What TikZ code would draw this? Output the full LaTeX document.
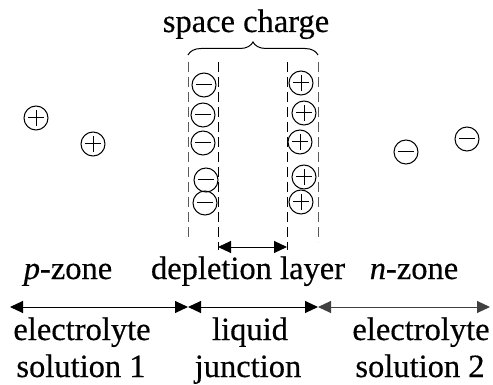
\documentclass[tikz,border=0pt]{standalone}
\usepackage{fontspec}
\setmainfont{Liberation Serif}[FakeBold=0.4,ItalicFeatures={FakeBold=0.4}]
\usetikzlibrary{arrows.meta,decorations.pathreplacing}
\begin{document}
\begin{tikzpicture}[x=1pt,y=1pt,line width=1pt,
  ion/.style={circle,draw,minimum size=24pt,inner sep=0pt},
  minusion/.style={ion,path picture={\draw ([xshift=-8pt]path picture bounding box.center) -- ([xshift=8pt]path picture bounding box.center);}},
  plusion/.style={ion,path picture={\draw ([xshift=-8pt]path picture bounding box.center) -- ([xshift=8pt]path picture bounding box.center); \draw ([yshift=-8pt]path picture bounding box.center) -- ([yshift=8pt]path picture bounding box.center);}},
  lbl/.style={font=\fontsize{32.5}{36}\selectfont,inner sep=0pt,anchor=base},
  outerdash/.style={draw=black!65,dash pattern=on 10pt off 5pt},
  innerdash/.style={draw=black,dash pattern=on 10pt off 5pt},
  dtip/.style={{Triangle[length=13pt,width=12pt]}-{Triangle[length=13pt,width=12pt]}}]
\useasboundingbox (0,0) rectangle (493,-385);
% title and brace
\node[lbl] (title) at (246,-32) {space charge};
\coordinate (bl) at (188,-55);
\coordinate (br) at (318,-55);
\draw[decorate,decoration={brace,amplitude=13pt}] (bl) -- (br);
% dashed boundaries
\coordinate (ol1) at (188,-62); \coordinate (ol2) at (188,-240);
\coordinate (il1) at (218,-62); \coordinate (il2) at (218,-250);
\coordinate (ir1) at (287,-62); \coordinate (ir2) at (287,-250);
\coordinate (or1) at (318,-62); \coordinate (or2) at (318,-242);
\draw[outerdash] (ol1) -- (ol2);
\draw[innerdash] (il1) -- (il2);
\draw[innerdash] (ir1) -- (ir2);
\draw[outerdash] (or1) -- (or2);
% space-charge ions
\node[minusion] (m1) at (204,-85) {};
\node[minusion] (m2) at (203,-115) {};
\node[minusion] (m3) at (203,-143) {};
\node[minusion] (m4) at (206,-180) {};
\node[minusion] (m5) at (205,-203) {};
\node[plusion] (p1) at (301,-83) {};
\node[plusion] (p2) at (304,-113) {};
\node[plusion] (p3) at (300,-142) {};
\node[plusion] (p4) at (304,-177) {};
\node[plusion] (p5) at (301,-202) {};
% free ions
\node[plusion] (fp1) at (36,-118) {};
\node[plusion] (fp2) at (93,-144) {};
\node[minusion] (fm1) at (406,-152) {};
\node[minusion] (fm2) at (467,-139) {};
% depletion width arrow
\coordinate (dw1) at (218,-247);
\coordinate (dw2) at (287,-247);
\draw[dtip] (dw1) -- (dw2);
% zone labels
\node[lbl] (pz) at (68,-279) {\textit{p}-zone};
\node[lbl] (dl) at (248,-279) {depletion layer};
\node[lbl] (nz) at (414,-279) {\textit{n}-zone};
% bottom arrows
\coordinate (a0) at (10,-307);
\coordinate (a1) at (188,-307);
\coordinate (a2) at (318,-307);
\coordinate (a3) at (490,-307);
\draw[dtip] (a0) -- (a1);
\draw[dtip] (a1) -- (a2);
\draw[dtip,draw=black!75] (a2) -- (a3);
% bottom labels
\node[lbl] (e1a) at (82,-340) {electrolyte};
\node[lbl] (e1b) at (81,-377) {solution 1};
\node[lbl] (lja) at (250,-340) {liquid};
\node[lbl] (ljb) at (248,-377) {junction};
\node[lbl] (e2a) at (421,-340) {electrolyte};
\node[lbl] (e2b) at (420,-377) {solution 2};
\end{tikzpicture}
\end{document}
